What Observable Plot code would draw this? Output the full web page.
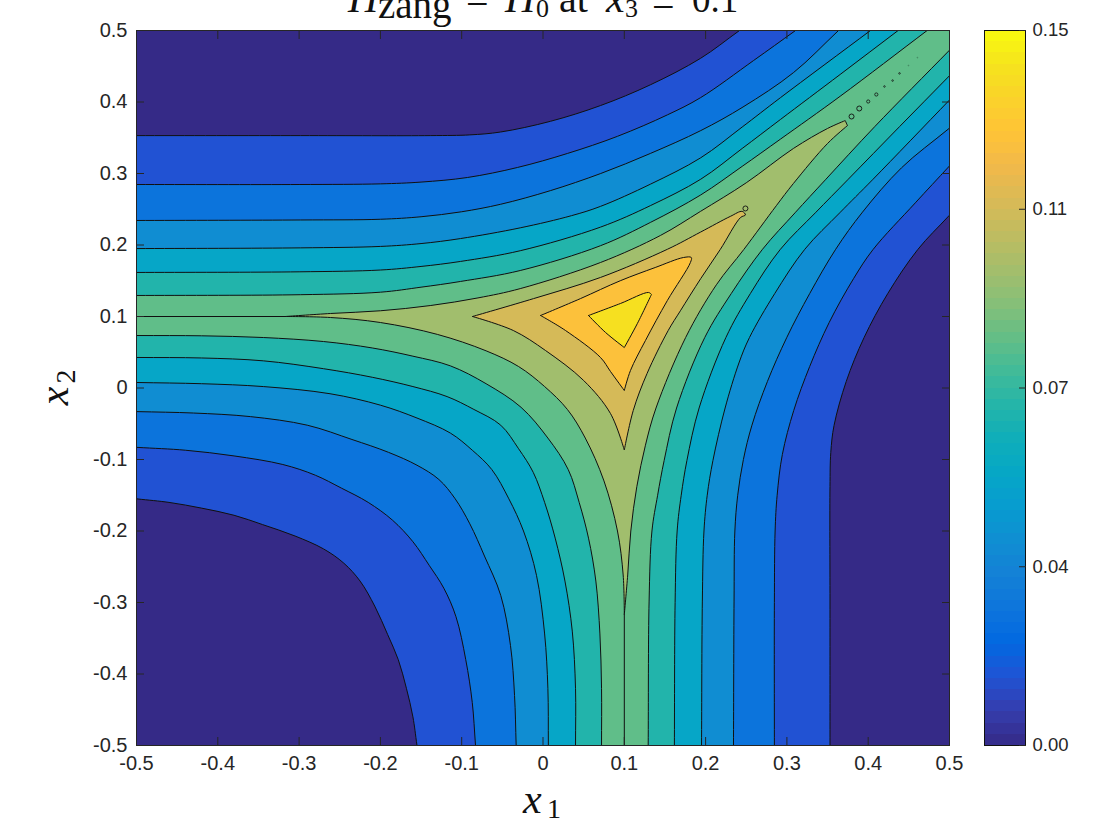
<!DOCTYPE html>
<html><head><meta charset="utf-8">
<script src="https://cdn.jsdelivr.net/npm/d3@7"></script>
<script src="https://cdn.jsdelivr.net/npm/@observablehq/plot@0.6"></script>
<style>
html,body{margin:0;padding:0;background:#fff;overflow:hidden}
#page{position:relative;width:1120px;height:840px;overflow:hidden}
#page>svg{position:absolute;left:0;top:0}
.m{position:absolute;font-family:"Liberation Serif",serif;color:#111;white-space:nowrap;line-height:1}
</style></head><body><div id="page"></div>
<script>
const xTicks=[-0.5,-0.4,-0.3,-0.2,-0.1,0,0.1,0.2,0.3,0.4,0.5];
const yTicks=[-0.5,-0.4,-0.3,-0.2,-0.1,0,0.1,0.2,0.3,0.4,0.5];
const cbTicks=[0,0.0375,0.075,0.1125,0.15];
const cbLabels=["0.00","0.04","0.07","0.11","0.15"];
const bandValues=[0,0.0141,0.0282,0.0423,0.0564,0.0705,0.0846,0.099,0.113,0.127,0.141];
const parula=[[.2081,.1663,.5292],[.2081,.2386,.6771],[.1253,.3242,.8303],[.0060,.4086,.8828],[.0498,.4586,.8641],[.0779,.5040,.8384],[.0641,.5570,.8240],[.0265,.6137,.8135],[.0228,.6535,.7768],[.0590,.6838,.7254],[.1453,.7098,.6646],[.2586,.7317,.5954],[.3953,.7459,.5244],[.5300,.7491,.4661],[.6473,.7456,.4188],[.7525,.7384,.3768],[.8507,.7299,.3360],[.9450,.7261,.2886],[.9990,.7653,.2164],[.9789,.8271,.1633],[.9589,.8949,.1132],[.9763,.9831,.0538]];

// upper-left contour arcs, one per level, outermost first
const ul1=[[-.5,.353],[-.298,.353],[-.138,.353],[-.09,.354],[-.0523,.358],[.0092,.373],[.0707,.395],[.132,.424],[.1937,.461],[.2417,.5]];
const ul2=[[-.5,.2846],[-.3,.2846],[-.2,.2855],[-.15,.288],[-.093,.2944],[-.0315,.3084],[.03,.328],[.0916,.352],[.153,.382],[.1937,.406],[.259,.458],[.3106,.5]];
const ul3=[[-.5,.2343],[-.298,.235],[-.2,.236],[-.15,.2395],[-.1,.2465],[-.052,.257],[.009,.276],[.071,.3],[.132,.328],[.194,.36],[.246,.393],[.308,.441],[.3635,.5]];
const ul4=[[-.5,.195],[-.298,.196],[-.2,.198],[-.15,.202],[-.1015,.209],[-.028,.224],[.035,.241],[.0707,.254],[.132,.285],[.194,.322],[.245,.365],[.292,.406],[.4028,.5]];
const ul5=[[-.5,.1616],[-.3,.1625],[-.2,.165],[-.15,.17],[-.1015,.177],[-.028,.192],[.0707,.225],[.132,.255],[.194,.292],[.245,.335],[.292,.3755],[.3655,.4385],[.4368,.5]];
const ul6=[[-.5,.1294],[-.298,.1305],[-.2,.134],[-.15,.141],[-.1015,.149],[-.028,.1643],[.0707,.199],[.132,.2315],[.194,.27],[.245,.31],[.292,.348],[.3655,.408],[.4725,.5]];
// lower-left contour arcs
const ll1=[[-.5,-.155],[-.46,-.16],[-.42,-.168],[-.38,-.178],[-.345,-.191],[-.305,-.207],[-.27,-.225],[-.245,-.245],[-.225,-.27],[-.207,-.305],[-.191,-.345],[-.178,-.38],[-.168,-.42],[-.16,-.46],[-.155,-.5]];
const ll2=[[-.5,-.083],[-.44,-.087],[-.38,-.095],[-.32,-.107],[-.28,-.122],[-.248,-.14],[-.215,-.16],[-.185,-.185],[-.16,-.215],[-.14,-.248],[-.122,-.28],[-.107,-.32],[-.095,-.38],[-.087,-.44],[-.083,-.5]];
const ll3=[[-.5,-.033],[-.43,-.035],[-.36,-.04],[-.29,-.052],[-.235,-.072],[-.19,-.09],[-.155,-.108],[-.128,-.128],[-.108,-.155],[-.09,-.19],[-.072,-.235],[-.052,-.29],[-.04,-.36],[-.035,-.43],[-.033,-.5]];
const ll4=[[-.5,.0077],[-.42,.006],[-.344,.002],[-.262,-.008],[-.2,-.024],[-.155,-.042],[-.114,-.063],[-.087,-.087],[-.063,-.114],[-.042,-.155],[-.024,-.2],[-.008,-.262],[.002,-.344],[.006,-.42],[.0066,-.5]];
const ll5=[[-.5,.0427],[-.42,.042],[-.344,.038],[-.27,.027],[-.21,.015],[-.16,.002],[-.118,-.012],[-.085,-.03],[-.052,-.052],[-.03,-.085],[-.012,-.118],[.002,-.16],[.015,-.21],[.027,-.27],[.036,-.34],[.04,-.42],[.04,-.5]];
const ll6=[[-.5,.0734],[-.42,.073],[-.344,.0706],[-.27,.065],[-.21,.056],[-.16,.0445],[-.114,.031],[-.07,.006],[-.027,-.027],[.006,-.07],[.031,-.114],[.0445,-.16],[.056,-.21],[.065,-.27],[.07,-.344],[.072,-.42],[.072,-.5]];
// lower-right contour arcs
const lr1=[[.353,-.5],[.353,-.298],[.353,-.138],[.354,-.09],[.358,-.0523],[.373,.0092],[.395,.0707],[.424,.132],[.461,.1937],[.5,.2417]];
const lr2=[[.2846,-.5],[.2846,-.3],[.2855,-.2],[.288,-.15],[.2944,-.093],[.3084,-.0315],[.328,.03],[.352,.0916],[.382,.153],[.406,.1937],[.458,.259],[.5,.3106]];
const lr3=[[.2343,-.5],[.235,-.298],[.236,-.2],[.2395,-.15],[.2465,-.1],[.257,-.052],[.276,.009],[.3,.071],[.328,.132],[.36,.194],[.393,.246],[.441,.308],[.5,.3635]];
const lr4=[[.195,-.5],[.196,-.298],[.198,-.2],[.202,-.15],[.209,-.1015],[.224,-.028],[.241,.035],[.254,.0707],[.285,.132],[.322,.194],[.365,.245],[.406,.292],[.5,.4028]];
const lr5=[[.1616,-.5],[.1625,-.3],[.165,-.2],[.17,-.15],[.177,-.1015],[.192,-.028],[.225,.0707],[.255,.132],[.292,.194],[.335,.245],[.3755,.292],[.4385,.3655],[.5,.4368]];
const lr6=[[.1294,-.5],[.1305,-.298],[.134,-.2],[.141,-.15],[.149,-.1015],[.1643,-.028],[.199,.0707],[.2315,.132],[.27,.194],[.31,.245],[.348,.292],[.408,.3655],[.5,.4725]];
// closed central contours; each sharp corner point is listed twice
const tri7=[[-.317,.1],[-.317,.1],[-.2615,.1042],[-.2,.108],[-.138,.1154],[-.08,.126],[-.028,.139],[.0707,.1755],[.1444,.2133],[.1937,.247],[.25,.287],[.308,.335],[.35,.363],[.3717,.374],[.3717,.374],[.3745,.367],[.3745,.367],[.35,.342],[.308,.286],[.287,.255],[.247,.1937],[.2133,.1444],[.1755,.0707],[.139,-.028],[.126,-.08],[.1154,-.138],[.108,-.2],[.1042,-.2615],[.1,-.317],[.1,-.317],[.0986,-.2615],[.0916,-.2],[.075,-.13],[.052,-.07],[.03,-.03],[.002,.002],[-.03,.03],[-.07,.052],[-.13,.075],[-.2,.0916],[-.2615,.0986],[-.317,.1],[-.317,.1]];
const tri8=[[-.0867,.1],[-.0867,.1],[-.0117,.125],[.0707,.1546],[.153,.194],[.1937,.218],[.2304,.24],[.245,.247],[.249,.242],[.243,.2385],[.218,.1937],[.194,.153],[.169,.108],[.154,.0804],[.128,.0203],[.111,-.0315],[.1,-.0867],[.1,-.0867],[.083,-.0357],[.05,.0105],[.003,.0525],[-.0365,.0804],[-.0867,.1],[-.0867,.1]];
const tri9=[[-.003,.1014],[-.003,.1014],[.046,.125],[.095,.15],[.138,.1685],[.1728,.1825],[.1824,.1825],[.1813,.1755],[.153,.1224],[.126,.0664],[.1076,.0245],[.1,-.0035],[.1,-.0035],[.083,.0231],[.0707,.0427],[.0277,.0804],[-.003,.1014],[-.003,.1014]];
const tri10=[[.056,.1014],[.056,.1014],[.0953,.1182],[.1298,.1336],[.1334,.1308],[.1334,.1308],[.116,.09],[.1,.0566],[.1,.0566],[.077,.0776],[.056,.1014],[.056,.1014]];
// ridge tails of the outer closed contour
const tailLeft=[[-.5,.1],[-.317,.1]];
const tailBottom=[[.1,-.5],[.1,-.317]];
// tiny closed contours along the diagonal ridge
const loopsLarge=[[.3795,.3797],[.389,.3909],[.249,.2511]];
const loopsMedium=[[.4,.4007],[.41,.4105]];
const loopsSmall=[[.42,.4217],[.43,.43],[.4385,.44]];
const loopsFaint=[[.4495,.451],[.4605,.462]];

const stops=parula.map(([r,g,b])=>d3.rgb(r*255,g*255,b*255).formatHex());
const ramp=d3.piecewise(d3.interpolateRgb,stops);
const colorScale={type:"linear",domain:[0,0.15],interpolate:ramp};
const ext=(p,q)=>{const dx=p[0]-q[0],dy=p[1]-q[1],n=Math.hypot(dx,dy);return [p[0]+dx/n*.1,p[1]+dy/n*.1]};
const lobeRows=(pts,corner,v,z)=>[corner,ext(pts[0],pts[1]),...pts,ext(pts[pts.length-1],pts[pts.length-2])].map(([x,y])=>({x,y,v,z}));
const loopRows=(pts,v,z)=>pts.map(([x,y])=>({x,y,v,z}));
const ulA=[ul1,ul2,ul3,ul4,ul5,ul6],llA=[ll1,ll2,ll3,ll4,ll5,ll6],lrA=[lr1,lr2,lr3,lr4,lr5,lr6];
let rows=[];
for(let k=5;k>=0;k--){
  rows=rows.concat(lobeRows(ulA[k],[-.7,.7],bandValues[k],"ul"+k),lobeRows(llA[k],[-.7,-.7],bandValues[k],"ll"+k),lobeRows(lrA[k],[.7,-.7],bandValues[k],"lr"+k));
}
[tri7,tri8,tri9,tri10].forEach((t,i)=>{rows=rows.concat(loopRows(t,bandValues[7+i],"t"+i))});
const xy={x:d=>d[0],y:d=>d[1]};
const lineColor="#101010",lw=1,ink="#262626";
const fmt=d=>String(d);
const main=Plot.plot({
  width:1120,height:840,marginLeft:136,marginRight:171,marginTop:30,marginBottom:95,
  style:{fontFamily:"'Liberation Sans',Arial,sans-serif",fontSize:"20px",color:ink,background:"transparent"},
  x:{domain:[-.5,.5]},y:{domain:[-.5,.5]},color:colorScale,
  marks:[
    Plot.rect([bandValues[6]],{x1:[-.5],x2:[.5],y1:[-.5],y2:[.5],fill:d=>d}),
    Plot.line(rows,{x:"x",y:"y",z:"z",fill:"v",stroke:lineColor,strokeWidth:lw,curve:"catmull-rom",clip:true}),
    Plot.line(tailLeft,{...xy,stroke:lineColor,strokeWidth:lw}),
    Plot.line(tailBottom,{...xy,stroke:lineColor,strokeWidth:lw}),
    Plot.dot(loopsLarge,{...xy,r:2.5,stroke:lineColor,strokeWidth:.9}),
    Plot.dot(loopsMedium,{...xy,r:1.6,stroke:lineColor,strokeWidth:.8}),
    Plot.dot(loopsSmall,{...xy,r:.8,stroke:lineColor,strokeWidth:.7}),
    Plot.dot(loopsFaint,{...xy,r:.5,stroke:lineColor,strokeWidth:.4,strokeOpacity:.5}),
    Plot.frame({stroke:ink,strokeWidth:1}),
    Plot.axisX({ticks:xTicks,anchor:"bottom",tickSize:-8,tickPadding:18,tickFormat:fmt,label:null,color:ink}),
    Plot.axisX({ticks:xTicks,anchor:"top",tickSize:-8,fill:"none",label:null,stroke:ink}),
    Plot.axisY({ticks:yTicks,anchor:"left",tickSize:-8,tickPadding:17,tickFormat:fmt,label:null,color:ink}),
    Plot.axisY({ticks:yTicks,anchor:"right",tickSize:-8,fill:"none",label:null,stroke:ink})
  ]
});
const cbCells=d3.range(64).map(i=>({a:i/64*.15,b:(i+1)/64*.15,v:(i+.5)/64*.15}));
const bar=Plot.plot({
  width:1120,height:840,marginLeft:984,marginRight:95,marginTop:30,marginBottom:95,
  style:{fontFamily:"'Liberation Sans',Arial,sans-serif",fontSize:"18.5px",color:ink,background:"transparent"},
  x:{domain:[0,1],axis:null},y:{domain:[0,.15]},color:colorScale,
  marks:[
    Plot.rect(cbCells,{x1:0,x2:1,y1:"a",y2:"b",fill:"v",shapeRendering:"crispEdges"}),
    Plot.frame({stroke:"#111",strokeWidth:1}),
    Plot.axisY({ticks:cbTicks,anchor:"right",tickSize:-7,tickPadding:14,tickFormat:(d,i)=>cbLabels[i],label:null,color:ink})
  ]
});
const page=document.getElementById("page");
page.append(main,bar);
const piece=(text,left,baseline,size,italic,rot)=>{
  const e=document.createElement("div");e.className="m";e.textContent=text;
  Object.assign(e.style,{left:left+"px",top:(baseline-.8375*size)+"px",fontSize:size+"px",fontStyle:italic?"italic":"normal"});
  if(rot){e.style.transformOrigin="0 "+(.8375*size)+"px";e.style.transform="rotate(-90deg)"}
  page.append(e);
};
piece("H",348,12,42,true);piece("zang",378,18,39,false);piece("−",466,17,40,false);
piece("H",505,12,42,true);piece("0",536,18,26,false);piece("at",559,12,40,false);
piece("x",606,12,42,true);piece("3",625,18,26,false);piece("=",652,17,40,false);piece("0.1",692,12,37,false);
piece("x",523,813,42,true);piece("1",547,818,28,false);
piece("x",68,405,42,true,true);piece("2",75,383,28,false,true);
</script></body></html>
